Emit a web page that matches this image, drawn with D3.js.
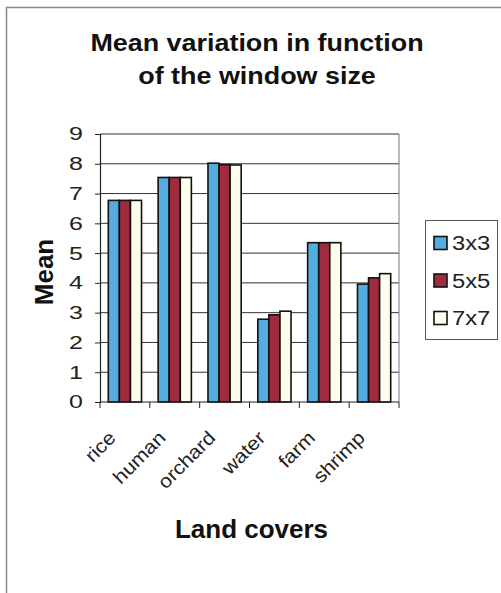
<!DOCTYPE html>
<html>
<head>
<meta charset="utf-8">
<script src="https://cdn.jsdelivr.net/npm/d3@7/dist/d3.min.js"></script>
<style>
  html, body { margin: 0; padding: 0; background: #fff; }
  svg { display: block; font-family: "Liberation Sans", Arial, sans-serif; }
</style>
</head>
<body>
<svg id="chart" width="501" height="593"></svg>
<script>
// Land cover classes and mean values for each moving-window size
const categories = ["rice", "human", "orchard", "water", "farm", "shrimp"];
const seriesNames = ["3x3", "5x5", "7x7"];
const mean3x3 = [6.77, 7.54, 8.02, 2.78, 5.35, 3.96];
const mean5x5 = [6.77, 7.54, 7.97, 2.93, 5.35, 4.17];
const mean7x7 = [6.77, 7.54, 7.96, 3.05, 5.35, 4.31];
const yTicks = [0, 1, 2, 3, 4, 5, 6, 7, 8, 9];

const seriesValues = [mean3x3, mean5x5, mean7x7];
const colors = ["#55ace0", "#a02a3e", "#fffdec"];

// the typeface used here is wider than Liberation Sans; stretch glyphs horizontally
const WIDE = 1.17;

const svg = d3.select("#chart");

// outer chart frame (extends beyond the page on the right and bottom)
svg.append("rect")
  .attr("x", 6.5).attr("y", 7.5)
  .attr("width", 540).attr("height", 640)
  .attr("fill", "#fff").attr("stroke", "#888").attr("stroke-width", 1.5);

const plot = { left: 100, right: 399, top: 134, bottom: 402 };

const x = d3.scaleBand().domain(categories).range([plot.left, plot.right]);
const y = d3.scaleLinear().domain([0, 9]).range([plot.bottom, plot.top]);

// bars: 3 per category, gap of 1.5 bar widths
const barW = x.bandwidth() / 4.5;
const xs = d3.scaleBand().domain(seriesNames)
  .range([barW * 0.75, barW * 3.75]).padding(0);

// gridlines
svg.append("g")
  .selectAll("line")
  .data(yTicks.filter(d => d > 0))
  .join("line")
  .attr("x1", plot.left).attr("x2", plot.right)
  .attr("y1", d => y(d)).attr("y2", d => y(d))
  .attr("stroke", "#333").attr("stroke-width", 1);

// plot border (right side)
svg.append("line")
  .attr("x1", plot.right).attr("x2", plot.right)
  .attr("y1", plot.top).attr("y2", plot.bottom)
  .attr("stroke", "#777").attr("stroke-width", 1);

const groups = svg.append("g").selectAll("g")
  .data(categories)
  .join("g")
  .attr("transform", c => `translate(${x(c)},0)`);

groups.selectAll("rect")
  .data((c, i) => seriesNames.map((s, j) => ({ s, v: seriesValues[j][i], j })))
  .join("rect")
  .attr("x", d => xs(d.s))
  .attr("width", xs.bandwidth())
  .attr("y", d => y(d.v))
  .attr("height", d => y(0) - y(d.v))
  .attr("fill", d => colors[d.j])
  .attr("stroke", "#111").attr("stroke-width", 1.6);

// y axis
const tickScale = 1.35;
const yAxis = d3.axisLeft(y).tickValues(yTicks).tickSize(5).tickFormat(d3.format("d"));
const gy = svg.append("g").attr("transform", `translate(${plot.left},0)`).call(yAxis);
gy.select(".domain").attr("stroke", "#222").attr("stroke-width", 1.2);
gy.selectAll(".tick line").attr("stroke", "#222");
gy.selectAll(".tick text")
  .attr("x", -17 / tickScale)
  .attr("transform", `scale(${tickScale},1)`)
  .attr("font-size", 18.5).attr("fill", "#222")
  .attr("font-family", "Liberation Sans, Arial, sans-serif");

// x axis: ticks at category boundaries
const boundaries = d3.range(categories.length + 1).map(i => plot.left + i * x.step());
const gx = svg.append("g");
gx.append("line")
  .attr("x1", plot.left).attr("x2", plot.right)
  .attr("y1", plot.bottom).attr("y2", plot.bottom)
  .attr("stroke", "#222").attr("stroke-width", 1.2);
gx.selectAll("line.tk").data(boundaries).join("line").attr("class", "tk")
  .attr("x1", d => d).attr("x2", d => d)
  .attr("y1", plot.bottom).attr("y2", plot.bottom + 6)
  .attr("stroke", "#222");
gx.selectAll("text").data(categories).join("text")
  .attr("transform", c => `translate(${x(c) + x.bandwidth() / 2 - 8},439) rotate(-45) scale(1.12,1)`)
  .attr("text-anchor", "end")
  .attr("font-size", 19).attr("fill", "#222")
  .text(c => c);

// title
const title = svg.append("text")
  .attr("transform", `translate(257,0) scale(${WIDE},1)`)
  .attr("text-anchor", "middle").attr("font-weight", "bold")
  .attr("font-size", 23).attr("fill", "#111");
title.append("tspan").attr("x", 0).attr("y", 51).text("Mean variation in function");
title.append("tspan").attr("x", 0).attr("y", 84).text("of the window size");

// axis titles
svg.append("text")
  .attr("transform", "translate(53,272) rotate(-90)")
  .attr("text-anchor", "middle").attr("font-weight", "bold")
  .attr("font-size", 26).attr("fill", "#111")
  .text("Mean");
svg.append("text")
  .attr("x", 251.5).attr("y", 538)
  .attr("text-anchor", "middle").attr("font-weight", "bold")
  .attr("font-size", 26).attr("fill", "#111")
  .text("Land covers");

// legend
const legend = svg.append("g");
legend.append("rect")
  .attr("x", 425.5).attr("y", 220.5).attr("width", 72).attr("height", 119)
  .attr("fill", "#fff").attr("stroke", "#555").attr("stroke-width", 1);
const rowY = d3.scalePoint().domain(seriesNames).range([243, 318]);
const items = legend.selectAll("g.item").data(seriesNames).join("g").attr("class", "item")
  .attr("transform", s => `translate(434,${rowY(s)})`);
items.append("rect")
  .attr("x", 0).attr("y", -6.5).attr("width", 13).attr("height", 13)
  .attr("fill", (s, i) => colors[i]).attr("stroke", "#111").attr("stroke-width", 1.6);
items.append("text")
  .attr("transform", "translate(18,7) scale(1.22,1)")
  .attr("font-size", 19.5).attr("fill", "#222")
  .text(s => s);
</script>
</body>
</html>
